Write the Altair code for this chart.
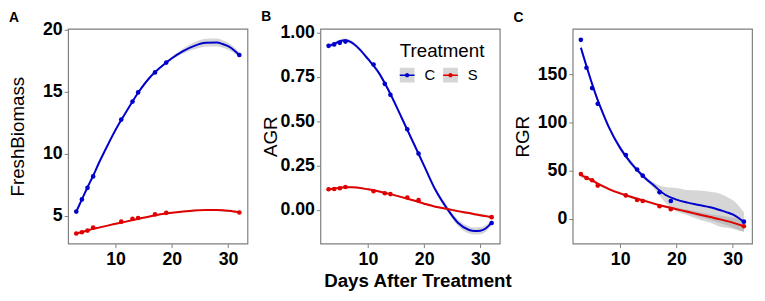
import pandas as pd
import altair as alt

# ---- values ----
treatments = ["C", "S"]
colors = ["#0000CD", "#E00000"]

# measured points
days = [3, 4, 5, 6, 11, 13, 14, 17, 19, 32]
fresh_C = [5.34, 6.32, 7.25, 8.17, 12.74, 14.19, 14.93, 16.54, 17.33, 17.94]
fresh_S = [3.58, 3.68, 3.81, 4.05, 4.53, 4.76, 4.82, 5.11, 5.24, 5.27]
agr_C = [0.924, 0.932, 0.941, 0.948, 0.819, 0.710, 0.648, 0.454, 0.317, -0.074]
agr_S = [0.116, 0.118, 0.122, 0.129, 0.105, 0.094, 0.089, 0.070, 0.055, -0.041]
rgr_C = [185.8, 156.8, 135.7, 119.3, 66.1, 51.1, 44.7, 27.6, 18.4, -3.1]
rgr_S = [46.4, 42.3, 39.9, 34.4, 24.2, 19.4, 18.4, 13.0, 9.9, -7.8]

# smoothed (loess) curves and half-widths of their grey bands, read at these days
curve_days = [3, 4, 5, 6, 7, 8, 10, 12, 14, 16, 18, 20, 22, 24, 26, 28, 29, 30, 31, 32]
fresh_fit_C = [5.34, 6.32, 7.30, 8.22, 9.23, 10.15, 11.92, 13.45, 14.90, 16.09, 16.96, 17.68,
               18.26, 18.68, 18.92, 18.94, 18.83, 18.65, 18.35, 17.94]
fresh_band_C = [0.10, 0.08, 0.08, 0.08, 0.08, 0.08, 0.08, 0.08, 0.08, 0.08, 0.08, 0.12,
                0.20, 0.28, 0.32, 0.32, 0.30, 0.28, 0.25, 0.20]
fresh_fit_S = [3.58, 3.70, 3.82, 3.95, 4.05, 4.15, 4.36, 4.55, 4.75, 4.95, 5.12, 5.25,
               5.35, 5.43, 5.47, 5.46, 5.44, 5.40, 5.35, 5.28]
fresh_band_S = [0.07, 0.06, 0.06, 0.06, 0.06, 0.06, 0.06, 0.06, 0.06, 0.06, 0.06, 0.06,
                0.06, 0.07, 0.08, 0.08, 0.09, 0.09, 0.10, 0.10]
agr_fit_C = [0.922, 0.935, 0.950, 0.956, 0.945, 0.921, 0.850, 0.769, 0.653, 0.519, 0.384,
             0.248, 0.113, 0.011, -0.072, -0.113, -0.119, -0.117, -0.103, -0.072]
agr_band_C = [0.012, 0.010, 0.010, 0.010, 0.010, 0.010, 0.010, 0.010, 0.010, 0.010, 0.010,
              0.010, 0.012, 0.015, 0.018, 0.020, 0.020, 0.020, 0.018, 0.015]
agr_fit_S = [0.116, 0.120, 0.124, 0.128, 0.128, 0.126, 0.116, 0.104, 0.089, 0.072, 0.054,
             0.035, 0.018, 0.006, -0.007, -0.018, -0.024, -0.030, -0.035, -0.041]
agr_band_S = [0.005, 0.005, 0.005, 0.005, 0.005, 0.005, 0.005, 0.005, 0.005, 0.005, 0.005,
              0.005, 0.005, 0.005, 0.006, 0.006, 0.007, 0.007, 0.008, 0.008]
rgr_fit_C = [177.6, 158.5, 140.1, 123.1, 108.4, 94.8, 73.3, 57.3, 44.7, 34.4, 24.9, 19.8,
             16.7, 14.3, 11.9, 8.5, 6.6, 4.4, 1.0, -3.4]
rgr_band_C = [4, 3, 2.5, 2.5, 2.5, 2.5, 2.5, 2.5, 2.5, 3, 8, 12, 13, 15, 16, 17, 16, 15, 13, 10]
rgr_fit_S = [45.3, 42.6, 39.9, 36.5, 33.5, 30.7, 26.3, 22.5, 19.1, 15.7, 12.6, 9.9,
             7.2, 4.4, 1.7, -1.0, -2.5, -4.1, -5.9, -7.8]
rgr_band_S = [2.5, 2, 1.5, 1.5, 1.5, 1.5, 1.5, 1.5, 1.5, 1.5, 1.5, 1.5,
              2, 2.5, 3, 4, 4.5, 5, 5.5, 6]

x_domain = [1.55, 33.45]
x_ticks = [10, 20, 30]
FONT = "Liberation Sans"


def panel(letter, pts_series, fit_series, band_series, ydom, ytitle, yticks, yfmt,
          title_offset, xtitle=None, legend=False):
    pts = pd.DataFrame([
        {"day": d, "value": v, "Treatment": tr}
        for tr, vals in zip(treatments, pts_series) for d, v in zip(days, vals)
    ])
    curves = pd.DataFrame([
        {"day": d, "fit": f, "lo": f - b, "hi": f + b, "Treatment": tr}
        for tr, fits, bands in zip(treatments, fit_series, band_series)
        for d, f, b in zip(curve_days, fits, bands)
    ])

    xaxis = alt.Axis(
        values=x_ticks, grid=False, domain=False, tickSize=4, tickColor="#7F7F7F",
        labelFont=FONT, labelFontSize=18, labelFontWeight="bold", labelColor="black",
        labelPadding=3, labelFlush=False,
        title=xtitle, titleFont=FONT, titleFontSize=19, titleFontWeight="bold",
        titleColor="black", titleX=98.5, titleY=43, titleBaseline="alphabetic",
    )
    yaxis = alt.Axis(
        values=yticks, format=yfmt, grid=False, domain=False, tickSize=4, tickColor="#7F7F7F",
        labelFont=FONT, labelFontSize=18, labelFontWeight="bold", labelColor="black",
        labelPadding=2, labelFlush=False,
        title=ytitle, titleFont=FONT, titleFontSize=19, titleFontWeight="normal",
        titleColor="black", titleX=-45, titleY=109, titleBaseline="alphabetic",
        titleAngle=270,
    )
    X = alt.X("day:Q", scale=alt.Scale(domain=x_domain, nice=False, zero=False), axis=xaxis)

    def Y(field):
        return alt.Y(field, type="quantitative",
                     scale=alt.Scale(domain=ydom, nice=False, zero=False), axis=yaxis)

    common_leg = dict(
        orient="none", legendX=80.5, legendY=13.3, direction="horizontal",
        title="Treatment", titleFont=FONT, titleFontSize=19, titleFontWeight="normal",
        titleColor="black", titlePadding=7, labelFont=FONT, labelFontSize=15,
        labelColor="black", symbolSize=225, labelOffset=10, columnPadding=8, padding=0,
        symbolStrokeWidth=0,
    )
    if legend:
        grey_leg = alt.Legend(symbolType="square", titleOpacity=0, labelOpacity=0,
                              symbolOpacity=0.4, **common_leg)
        line_leg = alt.Legend(
            symbolType="M-1,-0.1L1,-0.1L1,0.1L-1,0.1Z M-0.3,0A0.3,0.3,0,1,1,0.3,0A0.3,0.3,0,1,1,-0.3,0Z",
            symbolOpacity=1, **common_leg)
    else:
        grey_leg = None
        line_leg = None

    ribbon = alt.Chart(curves).mark_area(opacity=0.4, interpolate="monotone").encode(
        x=X, y=Y("lo"), y2="hi",
        fill=alt.Fill("Treatment:N", scale=alt.Scale(range=["#999999", "#999999"]),
                      legend=grey_leg),
    )
    line = alt.Chart(curves).mark_line(strokeWidth=2, interpolate="monotone").encode(
        x=X, y=Y("fit"),
        stroke=alt.Stroke("Treatment:N", scale=alt.Scale(domain=treatments, range=colors),
                          legend=None),
    )
    points = alt.Chart(pts).mark_circle(size=22, opacity=1).encode(
        x=X, y=Y("value"),
        color=alt.Color("Treatment:N", scale=alt.Scale(range=colors), legend=line_leg),
    )
    return alt.layer(ribbon, line, points).properties(
        width=182, height=218,
        title=alt.TitleParams(letter, anchor="start", frame="bounds", font=FONT,
                              fontSize=14, fontWeight="bold", color="black",
                              baseline="alphabetic", offset=title_offset),
    )


pA = panel("A", [fresh_C, fresh_S], [fresh_fit_C, fresh_fit_S], [fresh_band_C, fresh_band_S],
           [2.76, 20.05], "FreshBiomass", [5, 10, 15, 20], "d", -15)
pB = panel("B", [agr_C, agr_S], [agr_fit_C, agr_fit_S], [agr_band_C, agr_band_S],
           [-0.19, 1.02], "AGR", [0, 0.25, 0.5, 0.75, 1.0], ".2f", -12,
           xtitle="Days After Treatment", legend=True)
pC = panel("C", [rgr_C, rgr_S], [rgr_fit_C, rgr_fit_S], [rgr_band_C, rgr_band_S],
           [-25.9, 197.3], "RGR", [0, 50, 100, 150], "d", -7)

chart = (
    alt.hconcat(pA, pB, pC, spacing=74, bounds="flush")
    .resolve_scale(color="independent", fill="independent", stroke="independent",
                   x="independent", y="independent")
    .resolve_legend(color="independent", fill="independent", stroke="independent")
    .properties(padding={"left": 0, "top": 0, "right": 4, "bottom": 0}, background="white")
    .configure_view(stroke="#7F7F7F", strokeWidth=1.2)
)

chart.save("out.html", embed_options={"renderer": "svg", "actions": False})
